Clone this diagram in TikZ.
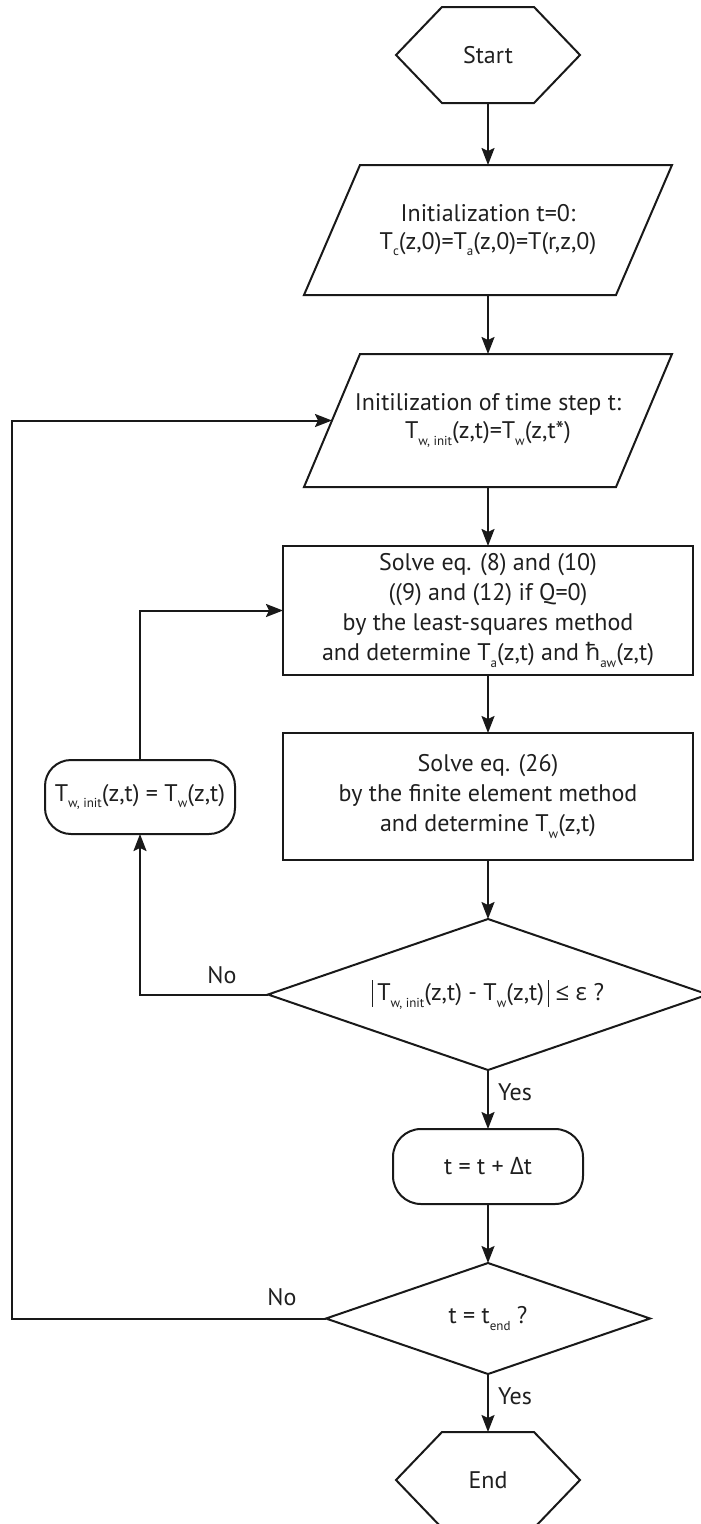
\documentclass[tikz,border=0pt]{standalone}
\usepackage{fontspec}
\setmainfont{PT Sans}
\newfontfamily\gk{Open Sans}
\usetikzlibrary{shapes.geometric,arrows.meta,calc}
\newcommand{\sbs}[1]{\raisebox{-0.55ex}{\fontsize{13}{13}\selectfont #1}}
\newcommand{\vbar}{\rule[-6pt]{1.3pt}{27pt}}
\begin{document}
\begin{tikzpicture}[x=1pt,y=-1pt,
  base/.style={line width=2pt, draw=black!90},
  arr/.style={base, -{Stealth[length=17pt,width=13pt,inset=3pt]}},
  txt/.style={font=\fontsize{24}{30}\selectfont, align=center, text=black!88, inner sep=0pt, outer sep=0pt},
  lbl/.style={font=\fontsize{24}{30}\selectfont, text=black!88, inner sep=0pt}
]
\useasboundingbox (0,0) rectangle (701,1524);

% Start hexagon
\node[txt, minimum width=184pt, minimum height=96pt] (start) at (488,55) {Start};
\draw[base] (start.west) -- ($(start.north west)+(46,0)$) -- ($(start.north east)+(-46,0)$)
  -- (start.east) -- ($(start.south east)+(-46,0)$) -- ($(start.south west)+(46,0)$) -- cycle;

% Parallelogram 1
\node[txt, minimum width=368pt, minimum height=130pt] (p1) at (488,230) {Initialization t=0:\\[-2pt]T\sbs{c}(z,0)=T\sbs{a}(z,0)=T(r,z,0)};
\draw[base] (p1.south west) -- ($(p1.north west)+(56,0)$) -- (p1.north east) -- ($(p1.south east)+(-56,0)$) -- cycle;

% Parallelogram 2
\node[txt, minimum width=368pt, minimum height=133pt] (p2) at (488,420.5) {Initilization of time step t:\\[-2pt]T\sbs{w, init}(z,t)=T\sbs{w}(z,t*)};
\draw[base] (p2.south west) -- ($(p2.north west)+(56,0)$) -- (p2.north east) -- ($(p2.south east)+(-56,0)$) -- cycle;
\coordinate (p2l) at ($(p2.south west)!0.5!($(p2.north west)+(56,0)$)$);

% Rectangle 1
\node[txt, base, draw, minimum width=410pt, minimum height=129pt] (r1) at (488,610.5)
  {Solve eq. (8) and (10)\\((9) and (12) if Q=0)\\by the least-squares method\\and determine T\sbs{a}(z,t) and {\gk ħ}\sbs{aw}(z,t)};

% Rectangle 2
\node[txt, base, draw, minimum width=410pt, minimum height=127pt] (r2) at (488,796.5)
  {Solve eq. (26)\\by the finite element method\\and determine T\sbs{w}(z,t)};

% Left rounded box
\node[txt, base, draw, rounded corners=26pt, minimum width=190pt, minimum height=74pt] (lb) at (140,797)
  {T\sbs{w, init}(z,t) = T\sbs{w}(z,t)};

% Diamond 1
\node[txt, base, draw, diamond, aspect=2.91, minimum width=440pt, minimum height=151pt] (d1) at (488,994.5)
  {\vbar\,T\sbs{w, init}(z,t) - T\sbs{w}(z,t)\,\vbar\ {\gk ≤ ε} ?};

% t = t + dt box
\node[txt, base, draw, rounded corners=28pt, minimum width=190pt, minimum height=75pt] (tb) at (488,1166.5)
  {t = t + {\gk Δ}t};

% Diamond 2
\node[txt, base, draw, diamond, aspect=2.92, minimum width=324pt, minimum height=111pt] (d2) at (488,1318.5)
  {t = t\sbs{end} ?};

% End hexagon
\node[txt, minimum width=184pt, minimum height=96pt] (end) at (488,1480) {End};
\draw[base] (end.west) -- ($(end.north west)+(46,0)$) -- ($(end.north east)+(-46,0)$)
  -- (end.east) -- ($(end.south east)+(-46,0)$) -- ($(end.south west)+(46,0)$) -- cycle;

% Main flow
\draw[arr] (start.south) -- (p1.north);
\draw[arr] (p1.south) -- (p2.north);
\draw[arr] (p2.south) -- (r1.north);
\draw[arr] (r1.south) -- (r2.north);
\draw[arr] (r2.south) -- (d1.north);
\draw[arr] (d1.south) -- (tb.north);
\draw[arr] (tb.south) -- (d2.north);
\draw[arr] (d2.south) -- (end.north);

% Inner loop
\draw[arr] (d1.west) -| (lb.south);
\draw[arr] (lb.north) |- (r1.west);

% Outer loop
\coordinate (lc) at (12,422);
\draw[arr] (d2.west) -- (d2.west -| lc) |- (p2l);

% Labels
\node[lbl] (no1) at (222,975) {No};
\node[lbl, anchor=west] (yes1) at (498,1092) {Yes};
\node[lbl] (no2) at (282,1297) {No};
\node[lbl, anchor=west] (yes2) at (498,1396) {Yes};
\end{tikzpicture}
\end{document}
